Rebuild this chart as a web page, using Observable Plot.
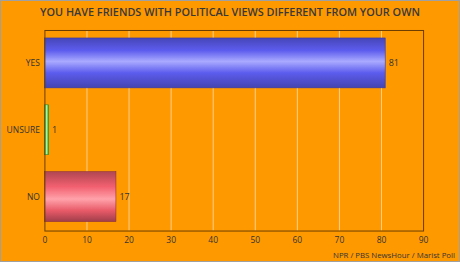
<!DOCTYPE html>
<html><head><meta charset="utf-8">
<script src="https://cdn.jsdelivr.net/npm/d3@7"></script>
<script src="https://cdn.jsdelivr.net/npm/@observablehq/plot@0.6"></script>
<style>
html,body{margin:0;padding:0;}
#wrap{position:relative;width:460px;height:262px;background:#FF9900;box-sizing:border-box;border:1px solid #a0a0a0;overflow:hidden;font-family:"Open Sans",sans-serif;}
#title{position:absolute;left:0;top:3px;width:458px;text-align:center;font-size:10.85px;font-weight:600;color:#383838;}
#chart{position:absolute;left:-1px;top:21px;}
#caption{position:absolute;right:4px;top:249px;font-size:7.8px;color:#333;}
</style></head>
<body>
<div id="wrap">
<div id="title">YOU HAVE FRIENDS WITH POLITICAL VIEWS DIFFERENT FROM YOUR OWN</div>
<div id="chart"></div>
<div id="caption">NPR / PBS NewsHour / Marist Poll</div>
</div>
<script>
const categories = ["YES", "UNSURE", "NO"];
const values = [81, 1, 17];
const xTicks = [0, 10, 20, 30, 40, 50, 60, 70, 80, 90];
const gradients = ["url(#gBlue)", "url(#gGreen)", "url(#gRed)"];
const strokes = ["#3a3aa0", "#2a8a2a", "#8a3040"];

const data = categories.map((c, i) => ({cat: c, value: values[i], grad: gradients[i], stroke: strokes[i]}));

function defsMark() {
  const defs = d3.create("svg:defs");
  const mk = (id, stops, horiz) => {
    const g = defs.append("linearGradient").attr("id", id)
      .attr("x1", 0).attr("y1", 0).attr("x2", horiz ? 1 : 0).attr("y2", horiz ? 0 : 1);
    stops.forEach(([o, c]) => g.append("stop").attr("offset", o).attr("stop-color", c));
  };
  mk("gBlue", [[0, "#4646b8"], [0.25, "#5c5cee"], [0.47, "#aaaaff"], [0.7, "#5c5cee"], [1, "#4444b0"]]);
  mk("gGreen", [[0, "#2fa82f"], [0.5, "#a8f8a0"], [1, "#2fa82f"]], true);
  mk("gRed", [[0, "#b04652"], [0.3, "#f26070"], [0.55, "#ffa2aa"], [0.78, "#e85a68"], [1, "#a03e4a"]]);
  return defs.node();
}

const chart = Plot.plot({
  width: 460,
  height: 226,
  marginLeft: 44.5,
  marginRight: 36,
  marginTop: 8,
  marginBottom: 17,
  style: {background: "transparent", fontFamily: "Open Sans, sans-serif", fontSize: "8.5px", color: "#333"},
  x: {domain: [0, 90], ticks: xTicks, label: null, tickSize: 0, tickPadding: 6},
  y: {domain: categories, label: null, tickSize: 0, tickPadding: 5, paddingInner: 0.25, paddingOuter: 0.125},
  color: {type: "identity"},
  marks: [
    defsMark,
    Plot.ruleX(xTicks.slice(1, -1), {stroke: "#ffd49a", strokeWidth: 1, strokeOpacity: 0.9}),
    Plot.barX(data, {x: "value", y: "cat", fill: "grad", stroke: "stroke", strokeWidth: 0.6}),
    Plot.text(data, {x: "value", y: "cat", text: d => String(d.value), textAnchor: "start", dx: 3, fill: "#333", fontSize: 9}),
    Plot.frame({stroke: "#6b3d00", strokeWidth: 1})
  ]
});
document.getElementById("chart").appendChild(chart);
</script>
</body></html>
